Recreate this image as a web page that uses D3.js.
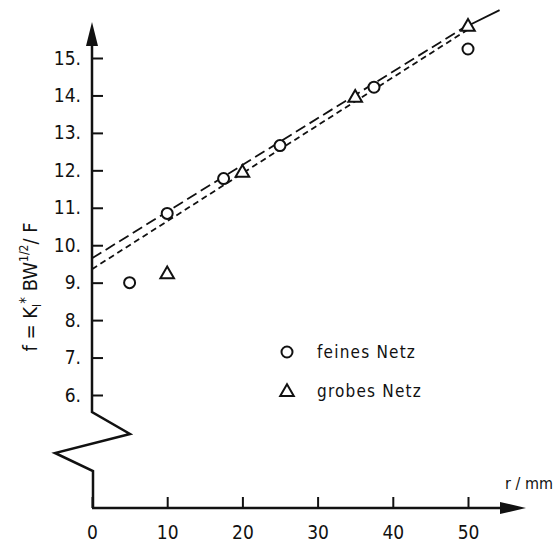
<!DOCTYPE html>
<html>
<head>
<meta charset="utf-8">
<script src="https://cdn.jsdelivr.net/npm/d3@7"></script>
<style>
  body { margin: 0; background: #fff; }
  svg { display: block; }
  text { font-family: "DejaVu Sans Condensed", "DejaVu Sans", sans-serif; fill: #111; }
</style>
</head>
<body>
<div id="chart"></div>
<script>
"use strict";

// Radius r / mm and f for both meshes.
const fineR = [5, 10, 17.5, 25, 37.5, 50];
const fineF = [9.0, 10.85, 11.78, 12.66, 14.22, 15.24];
const coarseR = [10, 20, 35, 50];
const coarseF = [9.25, 11.96, 13.96, 15.86];

// Fitted lines (start/end points in data units).
const lineLong = [[0, 9.65], [50, 15.88]];
const lineShort = [[0, 9.36], [50, 15.76]];
const lineSolid = [[50, 15.86], [54.2, 16.28]];

const xTicks = [0, 10, 20, 30, 40, 50];
const yTicks = [6, 7, 8, 9, 10, 11, 12, 13, 14, 15];

const width = 555, height = 549;
const svg = d3.select("#chart").append("svg")
    .attr("width", width)
    .attr("height", height);

const x = d3.scaleLinear().domain([0, 50]).range([92, 468]);
const y = d3.scaleLinear().domain([6, 15]).range([395, 58]);
const axisY = 508;
const ink = "#111";

// Y axis ticks and labels (ticks pointing right, labels with a trailing dot).
const yAxis = d3.axisLeft(y)
    .tickValues(yTicks)
    .tickSizeInner(-11)
    .tickSizeOuter(0)
    .tickPadding(11)
    .tickFormat(d => d + ".");
const gy = svg.append("g").attr("transform", `translate(${x(0)},0)`).call(yAxis);
gy.select(".domain").remove();
gy.selectAll(".tick line").attr("stroke", ink).attr("stroke-width", 2);
gy.selectAll(".tick text").style("font-size", "19px").attr("fill", ink);

// Y axis line with the break zigzag near the bottom.
const x0 = x(0);
const yAxisPath = [
    [x0, 40], [x0, 412],
    [x0 + 38, 434], [x0 - 37, 453],
    [x0 + 1, 471], [x0 + 1, axisY]
];
svg.append("path")
    .attr("d", d3.line()(yAxisPath))
    .attr("fill", "none")
    .attr("stroke", ink)
    .attr("stroke-width", 2.5)
    .attr("stroke-linejoin", "miter");
svg.append("path")
    .attr("d", `M${x0},22 L${x0 - 6},46 L${x0 + 6},46 Z`)
    .attr("fill", ink);

// X axis.
const xAxis = d3.axisBottom(x)
    .tickValues(xTicks)
    .tickSizeInner(-11)
    .tickSizeOuter(0)
    .tickPadding(18);
const gx = svg.append("g").attr("transform", `translate(0,${axisY})`).call(xAxis);
gx.select(".domain").remove();
gx.selectAll(".tick line").attr("stroke", ink).attr("stroke-width", 2);
gx.selectAll(".tick text").style("font-size", "19px").attr("fill", ink);

svg.append("line")
    .attr("x1", x0).attr("x2", 505)
    .attr("y1", axisY).attr("y2", axisY)
    .attr("stroke", ink).attr("stroke-width", 2.5);
svg.append("path")
    .attr("d", `M526,${axisY} L500,${axisY - 6} L500,${axisY + 6} Z`)
    .attr("fill", ink);

svg.append("text")
    .attr("x", 553).attr("y", 489)
    .attr("text-anchor", "end")
    .style("font-size", "16px")
    .text("r / mm");

// Y axis title.
const yt = svg.append("text")
    .attr("transform", "translate(37,287) rotate(-90)")
    .attr("text-anchor", "middle")
    .style("font-size", "20px");
yt.append("tspan").text("f = K");
yt.append("tspan").attr("dy", 4).style("font-size", "12px").text("I");
yt.append("tspan").attr("dy", -10).style("font-size", "15px").text("*");
yt.append("tspan").attr("dy", 6).text(" BW");
yt.append("tspan").attr("dy", -9).style("font-size", "12px").text("1/2");
yt.append("tspan").attr("dy", 9).text("/ F");

// Fitted lines.
const line = d3.line().x(d => x(d[0])).y(d => y(d[1]));
svg.append("path").attr("d", line(lineLong))
    .attr("fill", "none").attr("stroke", ink).attr("stroke-width", 1.8)
    .attr("stroke-dasharray", "11,5");
svg.append("path").attr("d", line(lineShort))
    .attr("fill", "none").attr("stroke", ink).attr("stroke-width", 1.8)
    .attr("stroke-dasharray", "6,4");
svg.append("path").attr("d", line(lineSolid))
    .attr("fill", "none").attr("stroke", ink).attr("stroke-width", 1.8);

// Markers.
const triangle = d3.symbol().type(d3.symbolTriangle).size(80);

svg.selectAll(".fine").data(fineR)
    .enter().append("circle")
    .attr("class", "fine")
    .attr("cx", d => x(d))
    .attr("cy", (d, i) => y(fineF[i]))
    .attr("r", 5.5)
    .attr("fill", "#fff")
    .attr("stroke", ink)
    .attr("stroke-width", 2);

svg.selectAll(".coarse").data(coarseR)
    .enter().append("path")
    .attr("class", "coarse")
    .attr("d", triangle)
    .attr("transform", (d, i) => `translate(${x(d)},${y(coarseF[i]) + 1})`)
    .attr("fill", "#fff")
    .attr("stroke", ink)
    .attr("stroke-width", 2);

// Legend.
const legend = svg.append("g").attr("transform", "translate(287,0)");
legend.append("circle")
    .attr("cx", 0).attr("cy", 352).attr("r", 5.5)
    .attr("fill", "#fff").attr("stroke", ink).attr("stroke-width", 2);
legend.append("path")
    .attr("d", triangle)
    .attr("transform", "translate(0,392)")
    .attr("fill", "#fff").attr("stroke", ink).attr("stroke-width", 2);
legend.append("text").attr("x", 30).attr("y", 358)
    .style("font-size", "17px").style("letter-spacing", "1.2px").text("feines Netz");
legend.append("text").attr("x", 30).attr("y", 397)
    .style("font-size", "17px").style("letter-spacing", "1.2px").text("grobes Netz");
</script>
</body>
</html>
